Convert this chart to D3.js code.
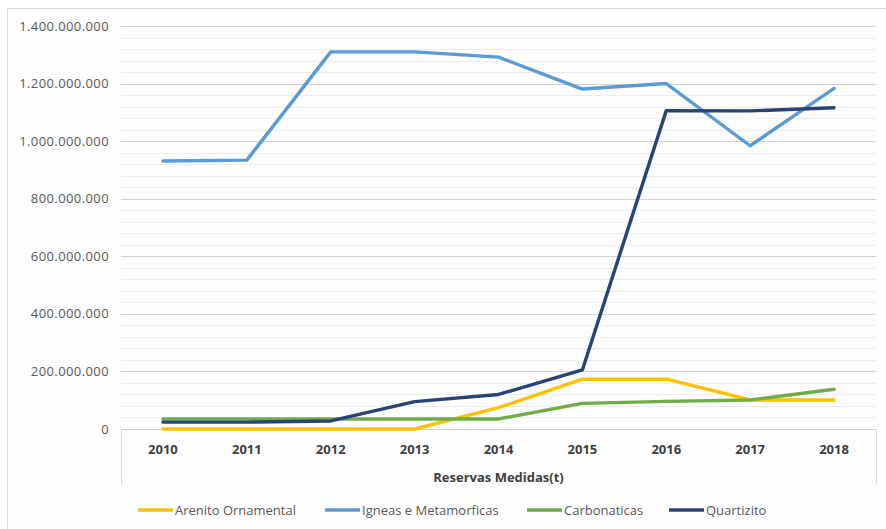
<!DOCTYPE html>
<html>
<head>
<meta charset="utf-8">
<script src="https://cdn.jsdelivr.net/npm/d3@7"></script>
<style>
  body { margin: 0; background: #fff; }
  text { font-family: "Open Sans", sans-serif; }
</style>
</head>
<body>
<svg id="chart" width="886" height="529"></svg>
<script>
const years = ["2010", "2011", "2012", "2013", "2014", "2015", "2016", "2017", "2018"];
const seriesNames = ["Arenito Ornamental", "Igneas e Metamorficas", "Carbonaticas", "Quartizito"];
const arenito = [0, 0, 0, 0, 74e6, 173e6, 173e6, 101e6, 101e6];
const igneas = [931e6, 934e6, 1310e6, 1310e6, 1292e6, 1181e6, 1200e6, 984e6, 1183e6];
const carbonaticas = [35e6, 35e6, 35e6, 35e6, 35e6, 89e6, 96e6, 101e6, 138e6];
const quartizito = [24e6, 24e6, 28e6, 95e6, 120e6, 205e6, 1106e6, 1105e6, 1116e6];
const yTicks = [0, 200e6, 400e6, 600e6, 800e6, 1000e6, 1200e6, 1400e6];
const colors = ["#FFC000", "#5B9BD5", "#70AD47", "#264478"];
const axisTitle = "Reservas Medidas(t)";

const svg = d3.select("#chart");
const plot = { left: 121, right: 876, top: 26, bottom: 429 };

// chart frame
svg.append("rect")
  .attr("x", 7.5).attr("y", 8.5)
  .attr("width", 900).attr("height", 540)
  .attr("fill", "#fdfdfd")
  .attr("stroke", "#d9d9d9");

const x = d3.scalePoint().domain(years).range([plot.left, plot.right]).padding(0.5);
const y = d3.scaleLinear().domain([0, 1400e6]).range([plot.bottom, plot.top]);

// minor gridlines (every 40M)
const minor = d3.range(0, 1400e6 + 1, 40e6).filter(v => v % 200e6 !== 0);
svg.append("g").selectAll("line").data(minor).join("line")
  .attr("x1", plot.left).attr("x2", plot.right)
  .attr("y1", d => Math.round(y(d)) + 0.5).attr("y2", d => Math.round(y(d)) + 0.5)
  .attr("stroke", "#ececec");

// major gridlines
svg.append("g").selectAll("line").data(yTicks.slice(1)).join("line")
  .attr("x1", plot.left).attr("x2", plot.right)
  .attr("y1", d => Math.round(y(d)) + 0.5).attr("y2", d => Math.round(y(d)) + 0.5)
  .attr("stroke", "#d8d0cf");

// y axis labels
const fmt = v => d3.format(",")(v).replace(/,/g, ".");
svg.append("g").selectAll("text").data(yTicks).join("text")
  .attr("x", 109).attr("y", d => y(d))
  .attr("dy", "0.35em")
  .attr("text-anchor", "end")
  .attr("font-size", 13)
  .attr("letter-spacing", 0.4)
  .attr("fill", "#595959")
  .text(fmt);

// category axis box
svg.append("line")
  .attr("x1", plot.left).attr("x2", plot.right)
  .attr("y1", plot.bottom + 0.5).attr("y2", plot.bottom + 0.5)
  .attr("stroke", "#d0d0d0");
[plot.left, plot.right].forEach(xx => {
  svg.append("line")
    .attr("x1", xx + 0.5).attr("x2", xx + 0.5)
    .attr("y1", plot.bottom).attr("y2", 485)
    .attr("stroke", "#d9d9d9");
});

svg.append("g").selectAll("text").data(years).join("text")
  .attr("x", d => x(d)).attr("y", 449)
  .attr("dy", "0.35em")
  .attr("text-anchor", "middle")
  .attr("font-size", 13)
  .attr("font-weight", "bold")
  .attr("fill", "#404040")
  .text(d => d);

svg.append("text")
  .attr("x", (plot.left + plot.right) / 2).attr("y", 477)
  .attr("dy", "0.35em")
  .attr("text-anchor", "middle")
  .attr("font-size", 13)
  .attr("font-weight", "bold")
  .attr("fill", "#404040")
  .text(axisTitle);

// series lines
const allSeries = [arenito, igneas, carbonaticas, quartizito];
const line = d3.line().x((d, i) => x(years[i])).y(d => y(d));
allSeries.forEach((s, i) => {
  svg.append("path")
    .datum(s)
    .attr("d", line)
    .attr("fill", "none")
    .attr("stroke", colors[i])
    .attr("stroke-width", 3.4)
    .attr("stroke-linejoin", "round")
    .attr("stroke-linecap", "round");
});

// legend
const legendX = [138, 325, 527, 669];
seriesNames.forEach((name, i) => {
  const g = svg.append("g").attr("transform", `translate(${legendX[i]},510)`);
  g.append("line")
    .attr("x1", 0).attr("x2", 35)
    .attr("stroke", colors[i])
    .attr("stroke-width", 3.4);
  g.append("text")
    .attr("x", 37).attr("dy", "0.35em")
    .attr("font-size", 13)
    .attr("fill", "#595959")
    .text(name);
});
</script>
</body>
</html>
